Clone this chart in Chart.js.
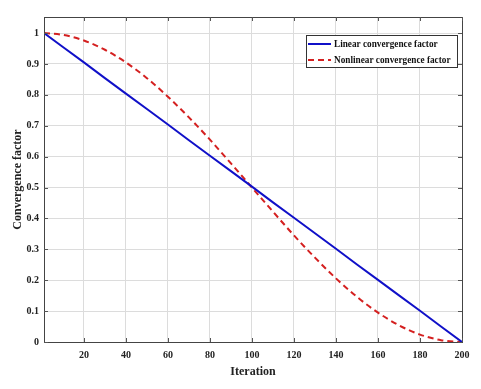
<!DOCTYPE html>
<html lang="en">
<head>
  <meta charset="UTF-8" />
  <title>Convergence factor</title>
  <script src="https://cdn.jsdelivr.net/npm/chart.js"></script>
  <style>
    html, body { margin: 0; padding: 0; background: #fff; }
    #wrap { width: 481px; height: 389px; }
  </style>
</head>
<body>
  <div id="wrap"><canvas id="convChart" width="481" height="389"></canvas></div>

  <script>
    // data
    const iterations = [1, 10, 20, 30, 40, 50, 60, 70, 80, 90, 100, 110, 120, 130, 140, 150, 160, 170, 180, 190, 200];
    const linearFactor = [1, 0.955, 0.905, 0.854, 0.804, 0.754, 0.704, 0.653, 0.603, 0.553, 0.503, 0.452, 0.402, 0.352, 0.302, 0.251, 0.201, 0.151, 0.101, 0.05, 0];
    const nonlinearFactor = [1, 0.994, 0.976, 0.946, 0.905, 0.854, 0.794, 0.727, 0.655, 0.578, 0.5, 0.422, 0.345, 0.273, 0.206, 0.146, 0.095, 0.054, 0.024, 0.006, 0];
    const xTicks = [20, 40, 60, 80, 100, 120, 140, 160, 180, 200];
    const yTicks = [0, 0.1, 0.2, 0.3, 0.4, 0.5, 0.6, 0.7, 0.8, 0.9, 1];
    const seriesNames = ['Linear convergence factor', 'Nonlinear convergence factor'];

    const serif = '"Liberation Serif", "Times New Roman", serif';
    const blue = '#1010c8';
    const red = '#d42020';

    const toPoints = ys => iterations.map((x, i) => ({ x, y: ys[i] }));

    // box around plot + legend drawn MATLAB style
    const boxLegend = {
      id: 'boxLegend',
      afterDraw(chart) {
        const { ctx, chartArea: a } = chart;
        ctx.save();
        ctx.strokeStyle = '#444';
        ctx.lineWidth = 1;
        ctx.strokeRect(a.left + 0.5, a.top + 0.5, a.right - a.left, a.bottom - a.top);

        // little inner tick marks on all four sides
        ctx.strokeStyle = '#555';
        const xs = chart.scales.x, ys = chart.scales.y;
        xTicks.forEach(v => {
          const px = Math.round(xs.getPixelForValue(v)) + 0.5;
          ctx.beginPath(); ctx.moveTo(px, a.top); ctx.lineTo(px, a.top + 4); ctx.stroke();
          ctx.beginPath(); ctx.moveTo(px, a.bottom); ctx.lineTo(px, a.bottom - 4); ctx.stroke();
        });
        yTicks.forEach(v => {
          const py = Math.round(ys.getPixelForValue(v)) + 0.5;
          ctx.beginPath(); ctx.moveTo(a.right, py); ctx.lineTo(a.right - 4, py); ctx.stroke();
          ctx.beginPath(); ctx.moveTo(a.left, py); ctx.lineTo(a.left + 4, py); ctx.stroke();
        });

        // legend box
        const lx = 306, ly = 35, lw = 151, lh = 32;
        ctx.fillStyle = '#fff';
        ctx.fillRect(lx, ly, lw, lh);
        ctx.strokeStyle = '#333';
        ctx.strokeRect(lx + 0.5, ly + 0.5, lw, lh);

        ctx.textBaseline = 'middle';
        const rows = [
          { y: 44, color: blue, dash: [] },
          { y: 60, color: red, dash: [6, 4] }
        ];
        rows.forEach((r, i) => {
          ctx.strokeStyle = r.color;
          ctx.lineWidth = 2;
          ctx.setLineDash(r.dash);
          ctx.beginPath(); ctx.moveTo(308, r.y); ctx.lineTo(331, r.y); ctx.stroke();
          ctx.setLineDash([]);
          // squeeze text a bit like the original figure
          ctx.save();
          ctx.translate(334, r.y);
          ctx.scale(0.84, 1);
          ctx.font = 'bold 11px ' + serif;
          ctx.fillStyle = '#111';
          ctx.fillText(seriesNames[i], 0, 0);
          ctx.restore();
        });
        ctx.restore();
      }
    };

    new Chart(document.getElementById('convChart'), {
      type: 'line',
      data: {
        datasets: [
          {
            label: seriesNames[0],
            data: toPoints(linearFactor),
            borderColor: blue,
            borderWidth: 2,
            pointRadius: 0,
            tension: 0,
            fill: false
          },
          {
            label: seriesNames[1],
            data: toPoints(nonlinearFactor),
            borderColor: red,
            borderWidth: 2,
            borderDash: [6, 4],
            pointRadius: 0,
            cubicInterpolationMode: 'monotone',
            fill: false
          }
        ]
      },
      options: {
        responsive: false,
        animation: false,
        layout: { padding: { top: 17, right: 19, left: 11, bottom: 10 } },
        plugins: {
          legend: { display: false },
          tooltip: { enabled: false }
        },
        scales: {
          x: {
            type: 'linear',
            min: 1,
            max: 200,
            afterBuildTicks: s => { s.ticks = xTicks.map(v => ({ value: v })); },
            afterFit: s => { s.height = 37; },
            grid: { color: '#dcdcdc', drawTicks: false },
            border: { display: false },
            ticks: {
              color: '#222',
              padding: 7,
              maxRotation: 0,
              font: { family: serif, size: 10, weight: 'bold' }
            },
            title: {
              display: true,
              text: 'Iteration',
              color: '#222',
              padding: { top: 2, bottom: 0 },
              font: { family: serif, size: 12, weight: 'bold' }
            }
          },
          y: {
            min: 0,
            max: 1.052,
            afterBuildTicks: s => { s.ticks = yTicks.map(v => ({ value: v })); },
            afterFit: s => { s.width = 33; },
            grid: { color: '#dcdcdc', drawTicks: false },
            border: { display: false },
            ticks: {
              color: '#222',
              padding: 5,
              font: { family: serif, size: 10, weight: 'bold' },
              callback: v => String(Math.round(v * 10) / 10)
            },
            title: {
              display: true,
              text: 'Convergence factor',
              color: '#222',
              padding: { top: 0, bottom: 4 },
              font: { family: serif, size: 12, weight: 'bold' }
            }
          }
        }
      },
      plugins: [boxLegend]
    });
  </script>
</body>
</html>
